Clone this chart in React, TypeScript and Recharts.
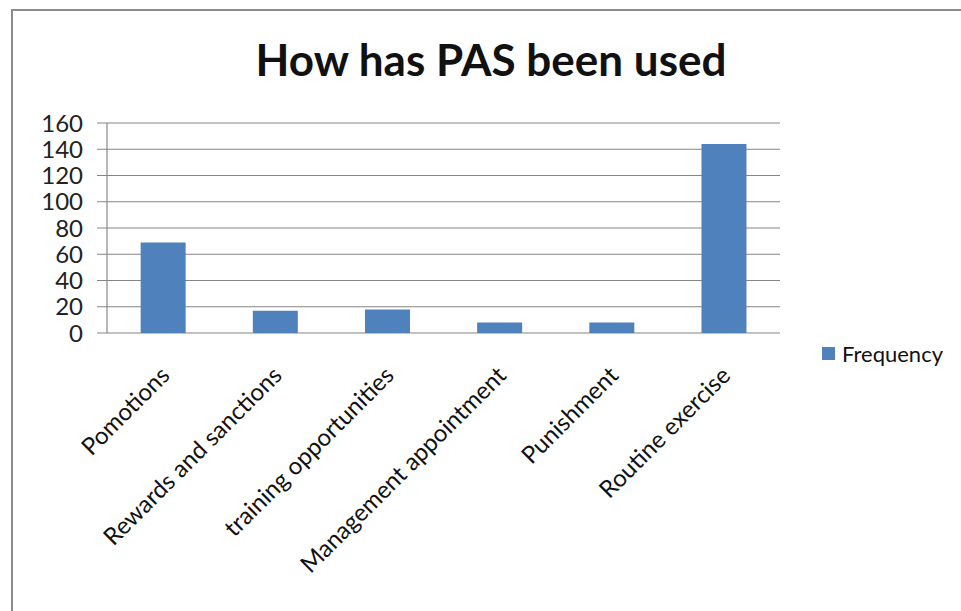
import { BarChart, Bar, XAxis, YAxis, CartesianGrid } from "recharts";

const categories = [
  "Pomotions",
  "Rewards and sanctions",
  "training opportunities",
  "Management appointment",
  "Punishment",
  "Routine exercise",
];
const frequency = [69, 17, 18, 8, 8, 144];
const yTicks = [0, 20, 40, 60, 80, 100, 120, 140, 160];
const edgeTicks = [0, 1, 2, 3, 4, 5, 6];

const data = categories.map((name, i) => ({ name, Frequency: frequency[i] }));

const FONT = "Lato, 'Open Sans', sans-serif";
const AXIS_GREY = "#868686";
const BAR_BLUE = "#4F81BD";

// rotated category labels, right end hooked under the category centre
const CategoryTick = (props: any) => {
  const { x, y, payload } = props;
  return (
    <g transform={`translate(${x + 8},${y + 44})`}>
      <text
        transform="rotate(-45)"
        textAnchor="end"
        fontSize={24}
        fontFamily={FONT}
        fill="#111"
      >
        {payload.value}
      </text>
    </g>
  );
};

export default function App() {
  return (
    <div
      style={{
        position: "absolute",
        left: 0,
        top: 0,
        width: 961,
        height: 611,
        overflow: "hidden",
        background: "#fff",
      }}
    >
      <div
        style={{
          position: "absolute",
          left: 11,
          top: 9,
          width: 1000,
          height: 700,
          border: "2px solid #8c8c8c",
        }}
      />
      <div
        style={{
          position: "absolute",
          left: 0,
          width: 982,
          top: 33,
          textAlign: "center",
          fontFamily: FONT,
          fontWeight: 700,
          fontSize: 44,
          color: "#111",
        }}
      >
        How has PAS been used
      </div>
      <div style={{ position: "absolute", left: 0, top: 0 }}>
        <BarChart
          width={961}
          height={611}
          data={data}
          margin={{ top: 123, right: 181, left: 27, bottom: 0 }}
          barCategoryGap="30%"
        >
          <CartesianGrid vertical={false} stroke={AXIS_GREY} strokeWidth={1.2} />
          <XAxis
            xAxisId="edges"
            type="number"
            domain={[0, 6]}
            ticks={edgeTicks}
            tick={false}
            height={0}
            tickSize={8}
            axisLine={{ stroke: AXIS_GREY, strokeWidth: 1.2 }}
            tickLine={{ stroke: AXIS_GREY }}
            allowDataOverflow
          />
          <XAxis
            xAxisId="cat"
            dataKey="name"
            height={278}
            interval={0}
            axisLine={false}
            tickLine={false}
            tickSize={0}
            tickMargin={0}
            tick={<CategoryTick />}
          />
          <YAxis
            width={80}
            domain={[0, 160]}
            ticks={yTicks}
            interval={0}
            tickSize={10}
            tickMargin={14}
            axisLine={{ stroke: AXIS_GREY, strokeWidth: 1.2 }}
            tickLine={{ stroke: AXIS_GREY }}
            tick={{ fontSize: 24, fontFamily: FONT, fill: "#222" }}
          />
          <Bar xAxisId="cat" dataKey="Frequency" fill={BAR_BLUE} isAnimationActive={false} />
        </BarChart>
      </div>
      <div
        style={{
          position: "absolute",
          left: 822,
          top: 340,
          display: "flex",
          alignItems: "center",
          fontFamily: FONT,
          fontSize: 22,
          color: "#111",
        }}
      >
        <span
          style={{
            width: 13,
            height: 13,
            background: BAR_BLUE,
            marginRight: 7,
            display: "inline-block",
          }}
        />
        Frequency
      </div>
    </div>
  );
}
